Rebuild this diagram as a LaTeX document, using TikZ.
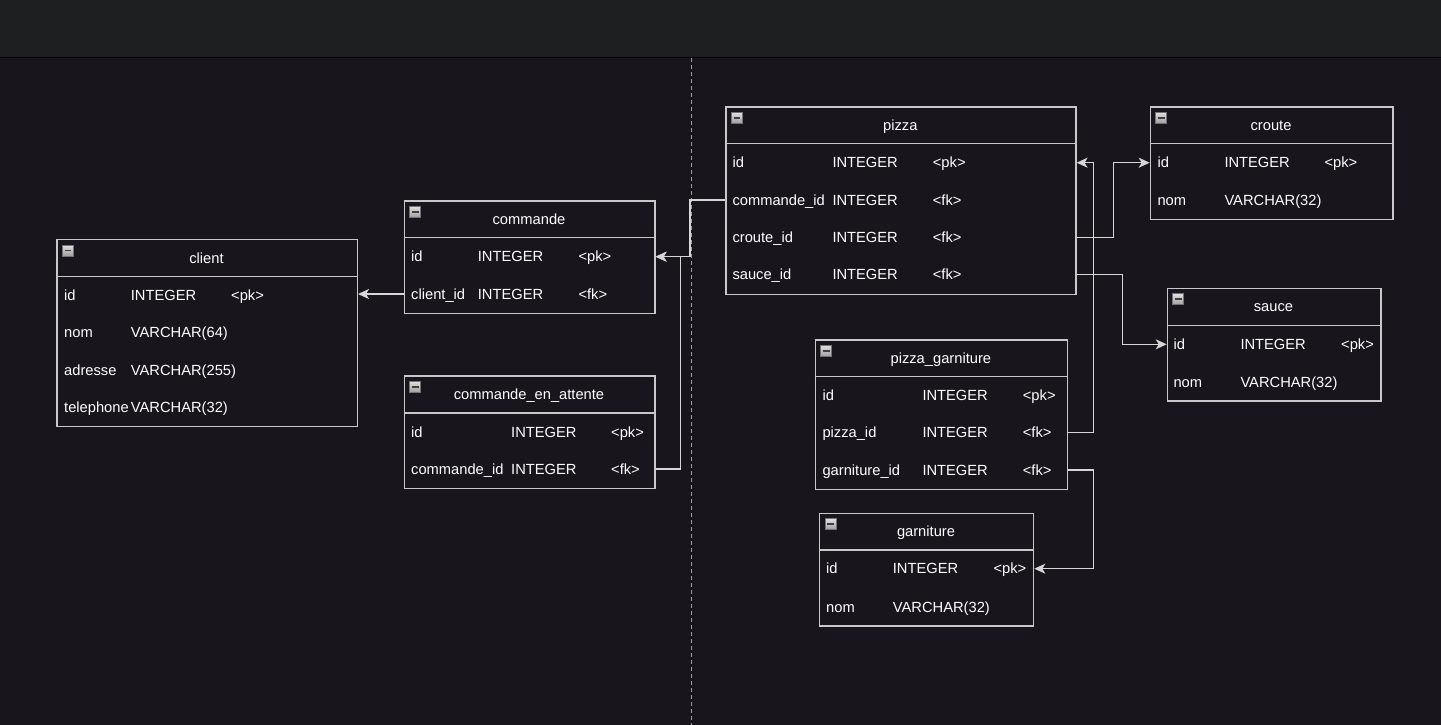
\documentclass[tikz,border=0pt]{standalone}
\usepackage{fontspec}
\setmainfont{Liberation Sans}
\usetikzlibrary{arrows.meta}
\definecolor{canvasbg}{HTML}{18151D}
\definecolor{topbar}{HTML}{1E1F21}
\definecolor{boxc}{HTML}{C8C8C8}
\definecolor{connc}{HTML}{D6D6D6}
\tikzset{
  tblbox/.style={draw=boxc, line width=1.3pt, fill=canvasbg, inner sep=0pt, anchor=north west},
  hdrline/.style={draw=boxc, line width=1.3pt},
  ttl/.style={text=white, inner sep=0pt, text height=10.5pt, text depth=0pt, font=\fontsize{14.7}{17}\selectfont},
  cell/.style={text=white, inner sep=0pt, anchor=west, text height=10.5pt, text depth=0pt, font=\fontsize{14.7}{17}\selectfont},
  minusicon/.style={rectangle, minimum size=11pt, inner sep=0pt, draw=black!55, line width=0.6pt,
    top color=gray!25, bottom color=gray!75,
    path picture={\draw[line width=1.8pt, black!75] ([xshift=-3.3pt]path picture bounding box.center) -- ([xshift=3.3pt]path picture bounding box.center);}},
  conn/.style={draw=connc, line width=1.5pt, -{Stealth[length=11pt,width=10pt,inset=3pt]}},
}
% name, x1, y1, x2, y2, yheader, title
\newcommand\erTable[7]{%
  \node[tblbox, minimum width={(#4-#2)*1pt}, minimum height={(#5-#3)*1pt}] (#1) at (#2,#3) {};
  \draw[hdrline] (#2,#6) -- (#4,#6);
  \node[ttl] (#1-title) at ({(#2+#4)/2},{(#3+#6)/2}) {#7};
  \node[minusicon] (#1-icon) at (#2+11.5,#3+11.5) {};
}
% rowname, y, xname, name, xtype, type, xkey, key
\newcommand\erRow[8]{%
  \node[cell] (#1-n) at (#3,#2) {#4};
  \node[cell] (#1-t) at (#5,#2) {#6};
  \node[cell] (#1-k) at (#7,#2) {#8};
}
% rowname, y, xname, name, xtype, type
\newcommand\erRowB[6]{%
  \node[cell] (#1-n) at (#3,#2) {#4};
  \node[cell] (#1-t) at (#5,#2) {#6};
}
\begin{document}
\begin{tikzpicture}[x=1pt,y=-1pt]
\useasboundingbox (0,0) rectangle (1441,725);
\fill[canvasbg] (0,0) rectangle (1441,725);
\fill[topbar] (0,0) rectangle (1441,57);
\draw[black, line width=1.2pt] (0,57.3) -- (1441,57.3);
\coordinate (divtop) at (691.3,58);
\coordinate (divbot) at (691.3,725);
\draw[gray!75, line width=1pt, dash pattern=on 4pt off 3pt] (divtop) -- (divbot);

% client
\erTable{client}{56.3}{239}{356.7}{426}{276.7}{client}
\erRow{cl-id}{295}{64}{id}{130.7}{INTEGER}{231}{<pk>}
\erRowB{cl-nom}{332.5}{64}{nom}{130.7}{VARCHAR(64)}
\erRowB{cl-adr}{370}{64}{adresse}{130.7}{VARCHAR(255)}
\erRowB{cl-tel}{407.5}{64}{telephone}{130.7}{VARCHAR(32)}

% commande
\erTable{commande}{403.7}{200.3}{654.3}{312.7}{237.7}{commande}
\erRow{cm-id}{256.7}{411}{id}{477.7}{INTEGER}{578.3}{<pk>}
\erRow{cm-cid}{294}{411}{client\_id}{477.7}{INTEGER}{578.3}{<fk>}

% commande_en_attente
\erTable{cea}{403.7}{375.3}{654.3}{488}{413}{commande\_en\_attente}
\erRow{cea-id}{432}{411}{id}{511}{INTEGER}{611}{<pk>}
\erRow{cea-cid}{469}{411}{commande\_id}{511}{INTEGER}{611}{<fk>}

% pizza
\erTable{pizza}{725.3}{106.3}{1075.3}{293.7}{143.7}{pizza}
\erRow{pz-id}{162.7}{732.3}{id}{832.3}{INTEGER}{932.7}{<pk>}
\erRow{pz-cid}{200}{732.3}{commande\_id}{832.3}{INTEGER}{932.7}{<fk>}
\erRow{pz-crid}{237.3}{732.3}{croute\_id}{832.3}{INTEGER}{932.7}{<fk>}
\erRow{pz-sid}{274.7}{732.3}{sauce\_id}{832.3}{INTEGER}{932.7}{<fk>}

% croute
\erTable{croute}{1149.7}{106.3}{1392.3}{218.7}{143.7}{croute}
\erRow{cr-id}{162.7}{1157.3}{id}{1224.3}{INTEGER}{1324.3}{<pk>}
\erRowB{cr-nom}{200}{1157.3}{nom}{1224.3}{VARCHAR(32)}

% sauce
\erTable{sauce}{1166.7}{287.7}{1380.3}{400.3}{325.3}{sauce}
\erRow{sa-id}{344.3}{1173.3}{id}{1240.3}{INTEGER}{1341}{<pk>}
\erRowB{sa-nom}{382}{1173.3}{nom}{1240.3}{VARCHAR(32)}

% pizza_garniture
\erTable{pg}{814.7}{339.3}{1067}{489}{376.7}{pizza\_garniture}
\erRow{pg-id}{395}{822.3}{id}{922.3}{INTEGER}{1022.7}{<pk>}
\erRow{pg-pid}{432.7}{822.3}{pizza\_id}{922.3}{INTEGER}{1022.7}{<fk>}
\erRow{pg-gid}{470}{822.3}{garniture\_id}{922.3}{INTEGER}{1022.7}{<fk>}

% garniture
\erTable{garniture}{819}{512.7}{1033}{625.3}{550}{garniture}
\erRow{ga-id}{568.7}{826}{id}{892.7}{INTEGER}{993.3}{<pk>}
\erRowB{ga-nom}{607}{826}{nom}{892.7}{VARCHAR(32)}

% connectors
\draw[conn] (commande.west |- cm-cid-n) -- (client.east |- cm-cid-n);
\draw[conn] (cea.east |- cea-cid-n) -- ++(24.7,0) |- (commande.east |- cm-id-n);
\draw[conn] (pizza.west |- pz-cid-n) -- ++(-35.3,0) |- (commande.east |- cm-id-n);
\draw[conn] (pizza.east |- pz-crid-n) -- ++(37,0) |- (croute.west |- cr-id-n);
\draw[conn] (pizza.east |- pz-sid-n) -- ++(45.7,0) |- (sauce.west |- sa-id-n);
\draw[conn] (pg.east |- pg-pid-n) -- ++(25,0) |- (pizza.east |- pz-id-n);
\draw[conn] (pg.east |- pg-gid-n) -- ++(25,0) |- (garniture.east |- ga-id-n);
\end{tikzpicture}
\end{document}
